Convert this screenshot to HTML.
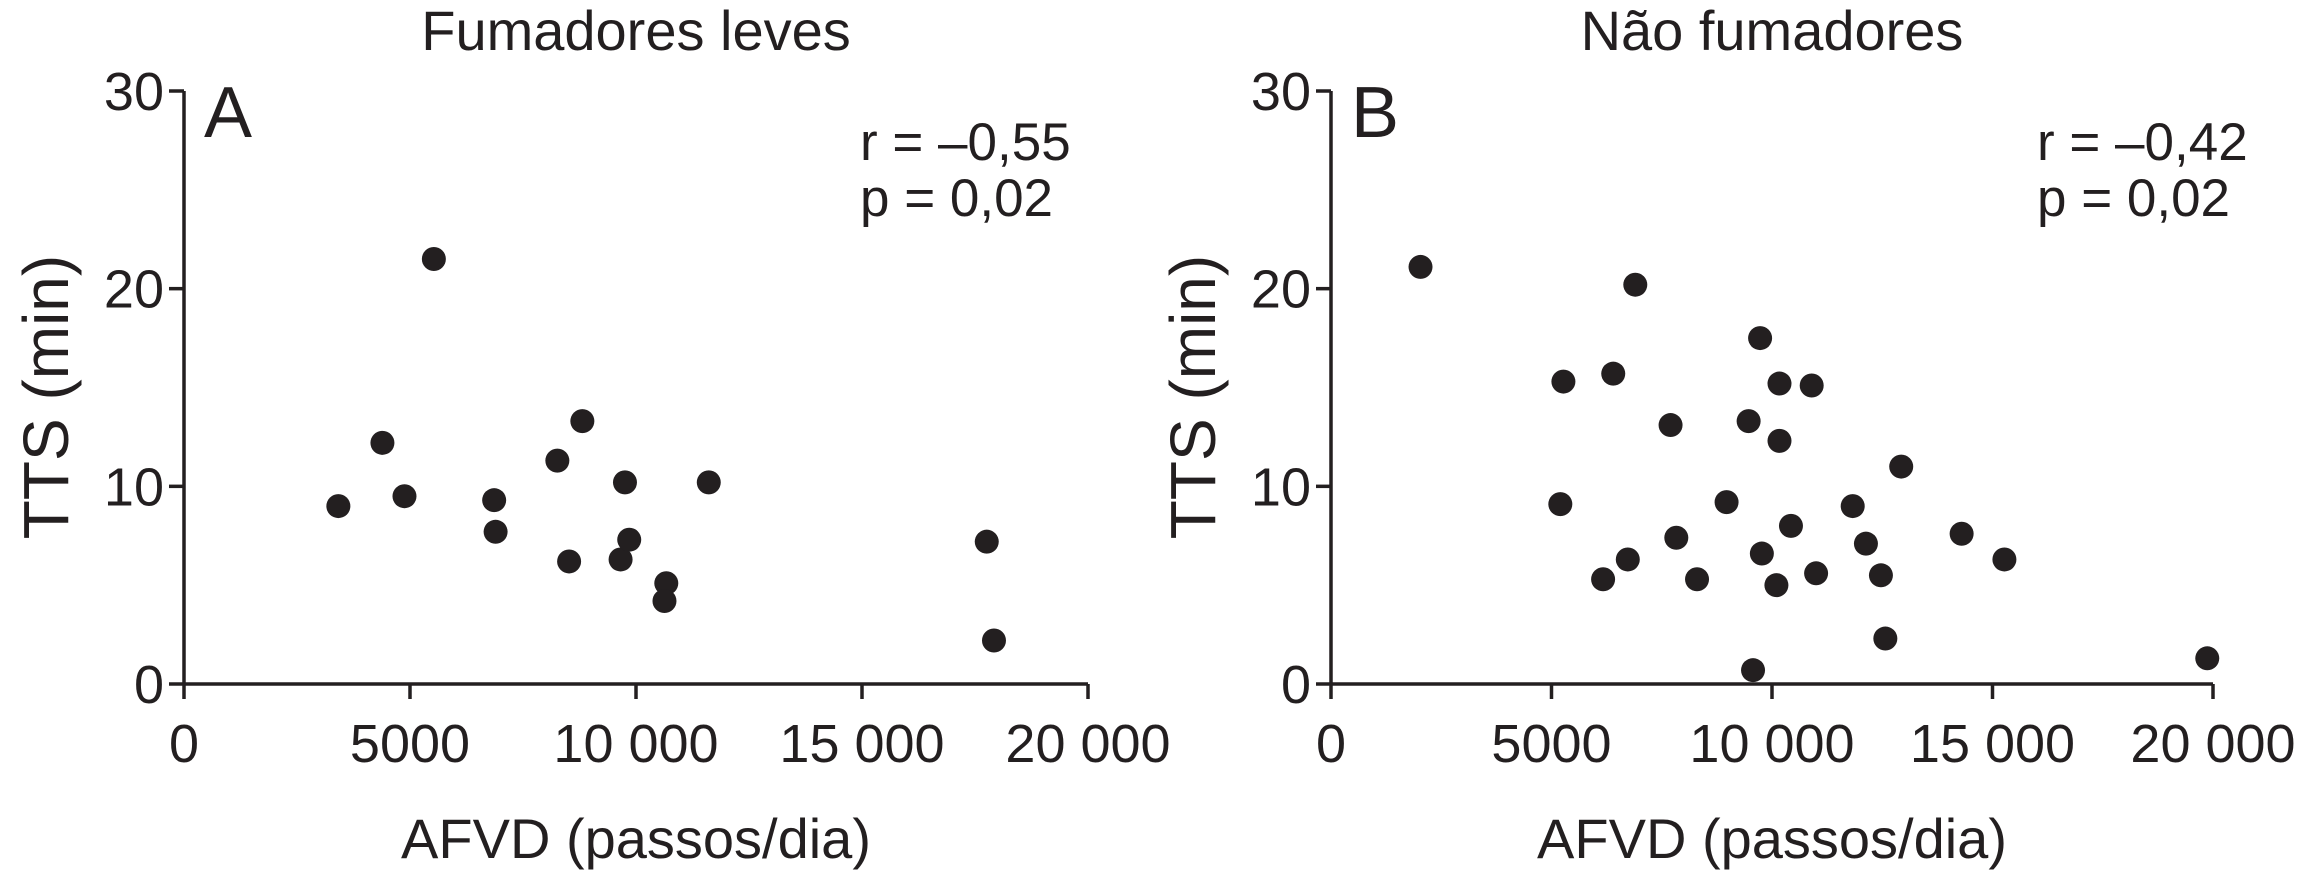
<!DOCTYPE html>
<html><head><meta charset="utf-8"><style>
html,body{margin:0;padding:0;background:#fff;}
svg{display:block;font-family:"Liberation Sans Narrow","Liberation Sans",sans-serif;fill:#231f20;}
</style></head><body>
<svg id="chart" width="2306" height="883" viewBox="0 0 2306 883" xmlns="http://www.w3.org/2000/svg"></svg>
<script>
const xTicks=[0,5000,10000,15000,20000];
const xTickLabels=["0","5000","10 000","15 000","20 000"];
const yTicks=[0,10,20,30];
const yTickLabels=["0","10","20","30"];
const panelTitles=["Fumadores leves","Não fumadores"];
const panelLetters=["A","B"];
const rLabels=["r = \u20130,55","r = \u20130,42"];
const pLabels=["p = 0,02","p = 0,02"];
const aX=[3415,4390,4878,5528,6862,6894,8260,8520,8813,9756,9659,9850,10670,10630,11610,17760,17920];
const aY=[9.0,12.2,9.5,21.5,9.3,7.7,11.3,6.2,13.3,10.2,6.3,7.3,5.1,4.2,10.2,7.2,2.2];
const bX=[2030,6900,9730,5270,6400,10170,10900,7700,9470,10170,12930,5200,8970,11830,10430,7830,12130,14300,6730,9770,15270,6170,11000,8300,10100,12470,12570,9570,19870];
const bY=[21.1,20.2,17.5,15.3,15.7,15.2,15.1,13.1,13.3,12.3,11.0,9.1,9.2,9.0,8.0,7.4,7.1,7.6,6.3,6.6,6.3,5.3,5.6,5.3,5.0,5.5,2.3,0.7,1.3];
const NS="http://www.w3.org/2000/svg";
const svg=document.getElementById('chart');
function mk(tag,attrs,parent,text){const e=document.createElementNS(NS,tag);for(const k in attrs)e.setAttribute(k,attrs[k]);if(text!==undefined)e.textContent=text;(parent||svg).appendChild(e);return e;}
const panels=[{x0:184,x1:1088,y0:684,y1:91,xs:aX,ys:aY,name:'panel-a',rx:860},{x0:1331,x1:2213,y0:684,y1:91,xs:bX,ys:bY,name:'panel-b',rx:2037}];
panels.forEach((p,i)=>{
  const g=mk('g',{});
  
  
  const sx=v=>p.x0+(v/20000)*(p.x1-p.x0);
  const sy=v=>p.y0-(v/30)*(p.y0-p.y1);
  let e=mk('line',{x1:p.x0,y1:p.y0,x2:p.x1,y2:p.y0,stroke:'#231f20','stroke-width':3.5},g);
  
  e=mk('line',{x1:p.x0,y1:p.y0,x2:p.x0,y2:p.y1,stroke:'#231f20','stroke-width':3.5},g);
  
  xTicks.forEach((t,j)=>{
    mk('line',{x1:sx(t),y1:p.y0,x2:sx(t),y2:p.y0+15,stroke:'#231f20','stroke-width':3.5},g);
    e=mk('text',{x:sx(t),y:762,'font-size':54,'text-anchor':'middle'},g,xTickLabels[j]);
    
  });
  yTicks.forEach((t,j)=>{
    mk('line',{x1:p.x0-15,y1:sy(t),x2:p.x0,y2:sy(t),stroke:'#231f20','stroke-width':3.5},g);
    e=mk('text',{x:p.x0-20,y:sy(t)+19,'font-size':54,'text-anchor':'end'},g,yTickLabels[j]);
    
  });
  p.xs.forEach((v,j)=>{
    e=mk('circle',{cx:sx(v),cy:sy(p.ys[j]),r:12,fill:'#231f20'},g);
    
  });
  const cx=(p.x0+p.x1)/2;
  e=mk('text',{x:cx,y:50,'font-size':56,'text-anchor':'middle'},g,panelTitles[i]);
  
  e=mk('text',{x:cx,y:858,'font-size':56,'text-anchor':'middle'},g,'AFVD (passos/dia)');
  
  const ty=p.x0-140;
  e=mk('text',{x:0,y:0,'font-size':64,'text-anchor':'middle',transform:`translate(${ty+24},397) rotate(-90)`},g,'TTS (min)');
  
  e=mk('text',{x:p.x0+20,y:137,'font-size':72},g,panelLetters[i]);
  
  e=mk('text',{x:p.rx,y:160,'font-size':53},g,rLabels[i]);
  
  e=mk('text',{x:p.rx,y:216,'font-size':53},g,pLabels[i]);
  
});
</script>
</body></html>
